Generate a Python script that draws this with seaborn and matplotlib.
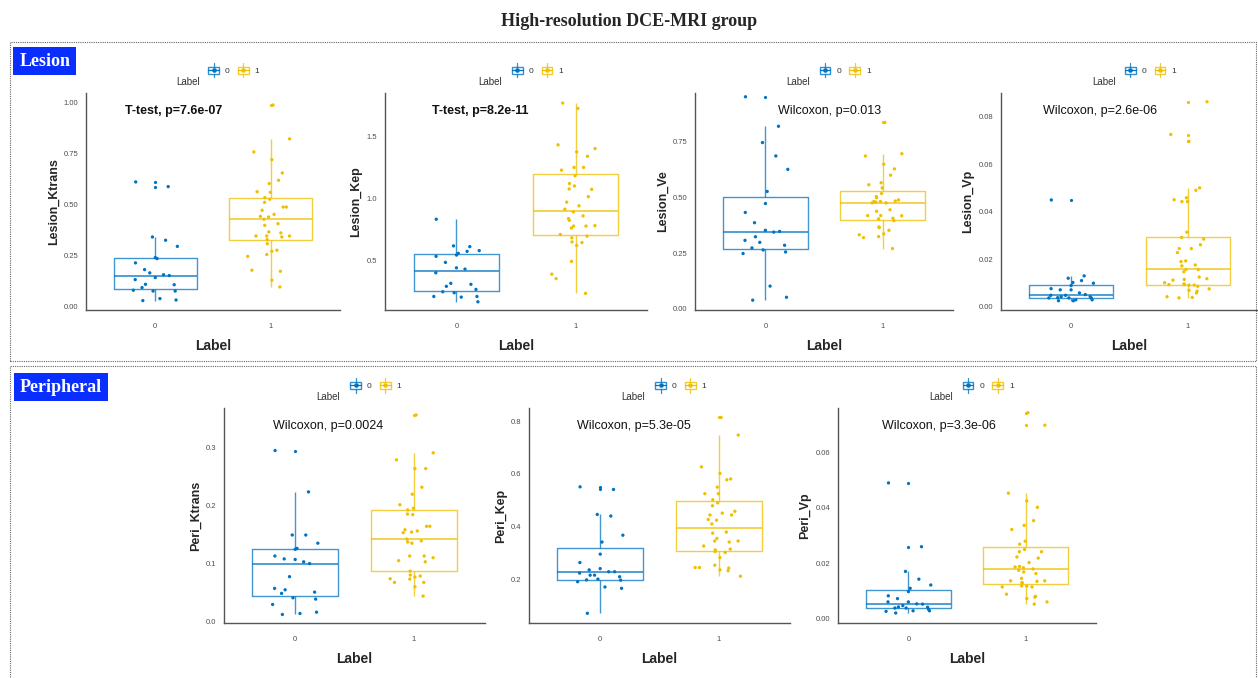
import numpy as np
import pandas as pd
import matplotlib
matplotlib.use('Agg')
import matplotlib.pyplot as plt
import seaborn as sns
from matplotlib.patches import Rectangle
from matplotlib.lines import Line2D
from matplotlib.legend_handler import HandlerBase
from matplotlib.ticker import FormatStrFormatter

sns.set_style('white')
plt.rcParams['font.family'] = ['Liberation Sans', 'DejaVu Sans']

labels = ['0', '1']
pal = {'0': '#0073C2', '1': '#EFC000'}  # jco palette

# ---- values (one list per group) ----
lesion_ktrans_0 = [0.613, 0.59, 0.343, 0.327, 0.297, 0.237, 0.242, 0.216, 0.183, 0.144, 0.158, 0.154,
                   0.167, 0.134, 0.111, 0.109, 0.095, 0.078, 0.078, 0.082, 0.041, 0.034, 0.031]
lesion_ktrans_1 = [0.99, 0.824, 0.76, 0.722, 0.657, 0.621, 0.605, 0.565, 0.562, 0.536, 0.528, 0.513,
                   0.49, 0.49, 0.474, 0.454, 0.444, 0.441, 0.43, 0.408, 0.40, 0.368, 0.363, 0.348,
                   0.348, 0.348, 0.343, 0.33, 0.31, 0.278, 0.273, 0.257, 0.248, 0.18, 0.175, 0.131, 0.098]
lesion_kep_0 = [0.832, 0.611, 0.617, 0.573, 0.579, 0.557, 0.543, 0.533, 0.484, 0.44, 0.43, 0.307,
                0.315, 0.40, 0.291, 0.266, 0.247, 0.239, 0.209, 0.209, 0.204, 0.166]
lesion_kep_1 = [1.769, 1.726, 1.402, 1.432, 1.375, 1.34, 1.25, 1.25, 1.228, 1.182, 1.12, 1.10, 1.076,
                1.073, 1.014, 0.97, 0.94, 0.913, 0.891, 0.837, 0.859, 0.823, 0.777, 0.777, 0.761,
                0.78, 0.709, 0.696, 0.682, 0.649, 0.644, 0.62, 0.492, 0.389, 0.353, 0.234]
lesion_ve_0 = [0.95, 0.818, 0.745, 0.685, 0.625, 0.526, 0.472, 0.432, 0.386, 0.352, 0.344, 0.347,
               0.298, 0.307, 0.323, 0.285, 0.273, 0.264, 0.255, 0.248, 0.102, 0.052, 0.039]
lesion_ve_1 = [0.835, 0.695, 0.685, 0.648, 0.627, 0.599, 0.565, 0.556, 0.542, 0.498, 0.517, 0.503,
               0.488, 0.483, 0.481, 0.475, 0.475, 0.481, 0.478, 0.444, 0.437, 0.418, 0.406, 0.403,
               0.417, 0.418, 0.395, 0.367, 0.364, 0.352, 0.336, 0.324, 0.332, 0.319, 0.27]
lesion_vp_0 = [0.0449, 0.0129, 0.0119, 0.0109, 0.0098, 0.0101, 0.0088, 0.0075, 0.007, 0.007, 0.0057,
               0.005, 0.0047, 0.0047, 0.0041, 0.0041, 0.0037, 0.0036, 0.0036, 0.0036, 0.0028,
               0.0028, 0.0024, 0.0024]
lesion_vp_1 = [0.0863, 0.0725, 0.0696, 0.05, 0.049, 0.0458, 0.045, 0.0442, 0.0442, 0.0313, 0.0291,
               0.0284, 0.026, 0.0244, 0.0244, 0.0227, 0.0192, 0.0189, 0.0175, 0.0171, 0.0156,
               0.0156, 0.0146, 0.0117, 0.0111, 0.0124, 0.0114, 0.0092, 0.009, 0.009, 0.0095, 0.01,
               0.0092, 0.0085, 0.0068, 0.0064, 0.0074, 0.0057, 0.0041, 0.0036, 0.0038]
peri_ktrans_0 = [0.294, 0.223, 0.149, 0.149, 0.135, 0.126, 0.1245, 0.113, 0.108, 0.107, 0.103, 0.100,
                 0.0775, 0.0574, 0.055, 0.051, 0.0488, 0.0413, 0.039, 0.0298, 0.0143, 0.0166, 0.0126]
peri_ktrans_1 = [0.355, 0.29, 0.278, 0.263, 0.263, 0.231, 0.219, 0.201, 0.195, 0.192, 0.184, 0.185,
                 0.164, 0.164, 0.158, 0.156, 0.153, 0.154, 0.142, 0.139, 0.137, 0.135, 0.113, 0.113,
                 0.11, 0.105, 0.103, 0.087, 0.0803, 0.0786, 0.0769, 0.0734, 0.074, 0.0677, 0.0677,
                 0.0602, 0.0442]
peri_kep_0 = [0.551, 0.541, 0.446, 0.44, 0.367, 0.341, 0.295, 0.263, 0.235, 0.24, 0.228, 0.228,
              0.215, 0.223, 0.215, 0.209, 0.197, 0.2, 0.196, 0.19, 0.17, 0.165, 0.07]
peri_kep_1 = [0.815, 0.748, 0.627, 0.602, 0.581, 0.578, 0.55, 0.525, 0.525, 0.502, 0.49, 0.479,
              0.458, 0.444, 0.444, 0.451, 0.427, 0.424, 0.41, 0.379, 0.375, 0.355, 0.341, 0.345,
              0.345, 0.326, 0.314, 0.305, 0.311, 0.301, 0.282, 0.253, 0.244, 0.244, 0.242, 0.235,
              0.232, 0.211]
peri_vp_0 = [0.049, 0.026, 0.0171, 0.0143, 0.0122, 0.011, 0.0098, 0.0083, 0.0073, 0.0061, 0.0054,
             0.0053, 0.0048, 0.0061, 0.0043, 0.0042, 0.0039, 0.0039, 0.0034, 0.0027, 0.0029,
             0.0029, 0.0021]
peri_vp_1 = [0.0743, 0.0698, 0.0453, 0.0425, 0.0402, 0.0354, 0.0337, 0.0322, 0.028, 0.0269, 0.025,
             0.0242, 0.0242, 0.0219, 0.0223, 0.0203, 0.0187, 0.0184, 0.0175, 0.018, 0.0189, 0.0169,
             0.0163, 0.0146, 0.0137, 0.0137, 0.0135, 0.0131, 0.0129, 0.0115, 0.0118, 0.0119,
             0.0115, 0.0089, 0.0081, 0.0073, 0.0078, 0.0061, 0.0053]

stat_text = {
    'Lesion_Ktrans': 'T-test, p=7.6e-07',
    'Lesion_Kep': 'T-test, p=8.2e-11',
    'Lesion_Ve': 'Wilcoxon, p=0.013',
    'Lesion_Vp': 'Wilcoxon, p=2.6e-06',
    'Peri_Ktrans': 'Wilcoxon, p=0.0024',
    'Peri_Kep': 'Wilcoxon, p=5.3e-05',
    'Peri_Vp': 'Wilcoxon, p=3.3e-06',
}

# name, group0, group1, ylim, yticks, tick format, axes rect in px (x0, y_top, w, h), stat text x
panels = [
    ('Lesion_Ktrans', lesion_ktrans_0, lesion_ktrans_1, (-0.015, 1.049), [0, 0.25, 0.5, 0.75, 1.0], '%.2f', (86, 93, 254, 217), 0.344),
    ('Lesion_Kep', lesion_kep_0, lesion_kep_1, (0.10, 1.85), [0.5, 1.0, 1.5], '%.1f', (385, 93, 262, 217), 0.364),
    ('Lesion_Ve', lesion_ve_0, lesion_ve_1, (-0.005, 0.967), [0, 0.25, 0.5, 0.75], '%.2f', (695, 93, 258, 217), 0.52),
    ('Lesion_Vp', lesion_vp_0, lesion_vp_1, (-0.0015, 0.090), [0, 0.02, 0.04, 0.06, 0.08], '%.2f', (1001, 93, 257, 217), 0.385),
    ('Peri_Ktrans', peri_ktrans_0, peri_ktrans_1, (-0.002, 0.367), [0, 0.1, 0.2, 0.3], '%.1f', (224, 408, 261, 215), 0.40),
    ('Peri_Kep', peri_kep_0, peri_kep_1, (0.033, 0.851), [0.2, 0.4, 0.6, 0.8], '%.1f', (529, 408, 261, 215), 0.40),
    ('Peri_Vp', peri_vp_0, peri_vp_1, (-0.0015, 0.076), [0, 0.02, 0.04, 0.06], '%.2f', (838, 408, 258, 215), 0.39),
]


class BoxKey(HandlerBase):
    # little boxplot glyph like ggplot's legend key
    def create_artists(self, legend, handle, xd, yd, w, h, fs, trans):
        c = handle.get_color()
        x0, y0 = -xd, -yd
        cx, cy = x0 + w / 2, y0 + h / 2
        bw, bh = w * 0.85, h * 0.5
        arts = [
            Rectangle((cx - bw / 2, cy - bh / 2), bw, bh, fill=False, ec=c, lw=1.0, alpha=0.8),
            Line2D([cx, cx], [y0, cy - bh / 2], color=c, lw=0.9, alpha=0.8),
            Line2D([cx, cx], [cy + bh / 2, y0 + h], color=c, lw=0.9, alpha=0.8),
            Line2D([cx - bw / 2, cx + bw / 2], [cy, cy], color=c, lw=0.9),
            Line2D([cx], [cy], marker='o', ms=2.3, color=c, lw=0),
        ]
        for a in arts:
            a.set_transform(trans)
        return arts


W, H = 1258, 678
fig = plt.figure(figsize=(W / 100, H / 100), dpi=100)

fig.text(0.5, 1 - 22 / H, 'High-resolution DCE-MRI group', ha='center', va='center',
         fontsize=13, fontweight='bold', family='Liberation Serif')

# dotted section frames
for y0, y1 in [(42, 361), (366, 690)]:
    fig.add_artist(Rectangle((10 / W, 1 - y1 / H), 1246 / W, (y1 - y0) / H, transform=fig.transFigure,
                             fill=False, ec='#666666', lw=0.8, ls=(0, (1, 1))))
for txt, cx, cy in [('Lesion', 44.7, 61), ('Peripheral', 60.8, 387)]:
    fig.text(cx / W, 1 - cy / H, txt, ha='center', va='center', color='white', fontsize=13,
             fontweight='bold', family='Liberation Serif',
             bbox=dict(boxstyle='square,pad=0.33', fc='#0A2EFF', ec='none'))

for name, g0, g1, ylim, yticks, fmt, (px, py, pw, ph), tx in panels:
    ax = fig.add_axes([px / W, 1 - (py + ph) / H, pw / W, ph / H])
    df = pd.DataFrame({'Label': ['0'] * len(g0) + ['1'] * len(g1), 'v': g0 + g1})

    sns.boxplot(data=df, x='Label', y='v', hue='Label', order=labels, hue_order=labels, palette=pal,
                fill=False, width=0.72, showcaps=False, linewidth=1.0, dodge=False, legend=False,
                flierprops=dict(marker='o', markersize=2.3), medianprops=dict(linewidth=1.3), ax=ax)
    for ln in ax.lines:
        if ln.get_marker() == 'o':
            ln.set_markerfacecolor(ln.get_markeredgecolor())
            ln.set_markeredgewidth(0)
        else:
            ln.set_alpha(0.75)
    np.random.seed(7)
    sns.stripplot(data=df, x='Label', y='v', hue='Label', order=labels, hue_order=labels, palette=pal,
                  jitter=0.2, size=2.4, linewidth=0, legend=False, ax=ax)

    ax.set_xlim(-0.6, 1.6)
    ax.set_ylim(*ylim)
    ax.set_yticks(yticks)
    ax.yaxis.set_major_formatter(FormatStrFormatter(fmt))
    sns.despine(ax=ax)
    for s in ['left', 'bottom']:
        ax.spines[s].set_color('#555555')
        ax.spines[s].set_linewidth(1.0)
    ax.tick_params(length=2.5, width=0.8, color='#555555', labelcolor='#4d4d4d', labelsize=5.5)
    ax.tick_params(axis='x', pad=7)
    ax.tick_params(axis='y', pad=3)
    ax.set_xlabel('Label', fontsize=10, fontweight='bold', labelpad=6)
    ax.set_ylabel(name, fontsize=9, fontweight='bold', labelpad=3)

    bold = 'bold' if name.startswith('Lesion_K') else 'normal'
    ax.text(tx, 0.915, stat_text[name], transform=ax.transAxes, ha='center', va='center',
            fontsize=9, fontweight=bold, color='#111111')

    # legend on top, ggpubr style
    handles = [Line2D([], [], color=pal[k]) for k in labels]
    ax.legend(handles, labels, handler_map={Line2D: BoxKey()}, ncol=2, frameon=False, fontsize=6,
              handlelength=1.5, handleheight=2.3, handletextpad=0.6, columnspacing=0.9, borderpad=0,
              borderaxespad=0, loc='center', bbox_to_anchor=(0.58, 1.105), labelcolor='#333333')
    ax.text(0.40, 1.052, 'Label', transform=ax.transAxes, ha='center', va='center',
            fontsize=7, color='#333333')

fig.savefig('out.png', dpi=100)
